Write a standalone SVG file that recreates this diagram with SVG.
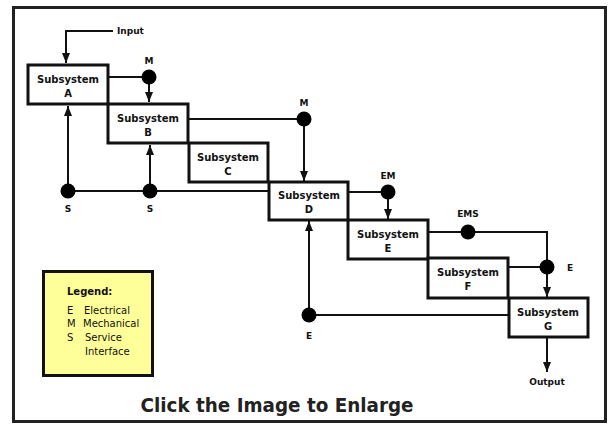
<svg xmlns="http://www.w3.org/2000/svg" width="611" height="424" viewBox="0 0 611 424">
<style>
.box{fill:#fff;stroke:#111;stroke-width:3}
.t{font-family:"DejaVu Sans",Verdana,sans-serif;font-weight:bold;font-size:10px;fill:#111;text-anchor:middle}
.lbl{font-family:"DejaVu Sans",Verdana,sans-serif;font-weight:bold;font-size:9px;fill:#111;text-anchor:middle}
.c{fill:none;stroke:#111;stroke-width:2}
.dot{fill:#000}
.lg{font-family:"DejaVu Sans",Verdana,sans-serif;font-size:10px;fill:#111}
</style>
<defs>
<marker id="ah" markerUnits="userSpaceOnUse" markerWidth="10" markerHeight="12" viewBox="0 0 10 12" refX="10" refY="5" orient="auto">
<path d="M0,1 L10,5 L0,9 Z" fill="#111"/>
</marker>
</defs>
<rect x="0" y="0" width="611" height="424" fill="#fff"/>
<rect x="13.5" y="7.5" width="592" height="414" fill="#fff" stroke="#222" stroke-width="3"/>
<g id="connectors">
<path class="c" d="M113,31 H66 V63" marker-end="url(#ah)"/>
<path class="c" d="M109,77 H149"/>
<path class="c" d="M149,77 V102" marker-end="url(#ah)"/>
<path class="c" d="M189,119 H304"/>
<path class="c" d="M304,119 V181" marker-end="url(#ah)"/>
<path class="c" d="M68,191 H269"/>
<path class="c" d="M68,191 V106" marker-end="url(#ah)"/>
<path class="c" d="M150,191 V145" marker-end="url(#ah)"/>
<path class="c" d="M349,192 H388"/>
<path class="c" d="M388,192 V219" marker-end="url(#ah)"/>
<path class="c" d="M429,232 H547 V297" marker-end="url(#ah)"/>
<path class="c" d="M509,267 H547"/>
<path class="c" d="M508,315 H309"/>
<path class="c" d="M309,315 V221" marker-end="url(#ah)"/>
<path class="c" d="M547,338 V372" marker-end="url(#ah)"/>
</g>
<g id="nodeA"><rect class="box" x="28" y="65" width="80" height="39"/><text class="t" x="68" y="83">Subsystem</text><text class="t" x="68" y="97">A</text></g>
<g id="nodeB"><rect class="box" x="108" y="104" width="80" height="39"/><text class="t" x="148" y="122">Subsystem</text><text class="t" x="148" y="136">B</text></g>
<g id="nodeC"><rect class="box" x="189" y="143" width="79" height="39"/><text class="t" x="228" y="161">Subsystem</text><text class="t" x="228" y="175">C</text></g>
<g id="nodeD"><rect class="box" x="269" y="182" width="79" height="38"/><text class="t" x="309" y="199">Subsystem</text><text class="t" x="309" y="213">D</text></g>
<g id="nodeE"><rect class="box" x="348" y="220" width="80" height="39"/><text class="t" x="388" y="238">Subsystem</text><text class="t" x="388" y="252">E</text></g>
<g id="nodeF"><rect class="box" x="428" y="258" width="80" height="40"/><text class="t" x="468" y="276">Subsystem</text><text class="t" x="468" y="290">F</text></g>
<g id="nodeG"><rect class="box" x="509" y="298" width="79" height="39"/><text class="t" x="548" y="316">Subsystem</text><text class="t" x="548" y="330">G</text></g>
<g id="junctions">
<circle class="dot" cx="149" cy="77" r="7.5"/>
<circle class="dot" cx="304" cy="119" r="7.5"/>
<circle class="dot" cx="68" cy="191" r="7.5"/>
<circle class="dot" cx="150" cy="191" r="7.5"/>
<circle class="dot" cx="388" cy="192" r="7.5"/>
<circle class="dot" cx="468" cy="232" r="7.5"/>
<circle class="dot" cx="547" cy="267" r="7.5"/>
<circle class="dot" cx="309" cy="315" r="7.5"/>
</g>
<g id="labels">
<text class="lbl" x="117" y="34" style="text-anchor:start">Input</text>
<text class="lbl" x="149" y="64">M</text>
<text class="lbl" x="304" y="106">M</text>
<text class="lbl" x="68" y="212">S</text>
<text class="lbl" x="150" y="212">S</text>
<text class="lbl" x="388" y="179">EM</text>
<text class="lbl" x="468" y="217">EMS</text>
<text class="lbl" x="570" y="271">E</text>
<text class="lbl" x="309" y="339">E</text>
<text class="lbl" x="547" y="385">Output</text>
</g>
<g id="legend">
<rect x="43.5" y="271.5" width="109" height="104" fill="#ffff99" stroke="#111" stroke-width="3"/>
<text class="lg" x="67" y="295" font-weight="bold">Legend:</text>
<text class="lg" x="67" y="314">E</text><text class="lg" x="84" y="314">Electrical</text>
<text class="lg" x="67" y="327">M</text><text class="lg" x="83" y="327">Mechanical</text>
<text class="lg" x="67" y="341">S</text><text class="lg" x="85" y="341">Service</text>
<text class="lg" x="85" y="355">Interface</text>
</g>
<text x="277" y="412" font-family="DejaVu Sans,Verdana,sans-serif" font-weight="bold" font-size="19" fill="#222" text-anchor="middle" textLength="273" lengthAdjust="spacingAndGlyphs">Click the Image to Enlarge</text>
</svg>
